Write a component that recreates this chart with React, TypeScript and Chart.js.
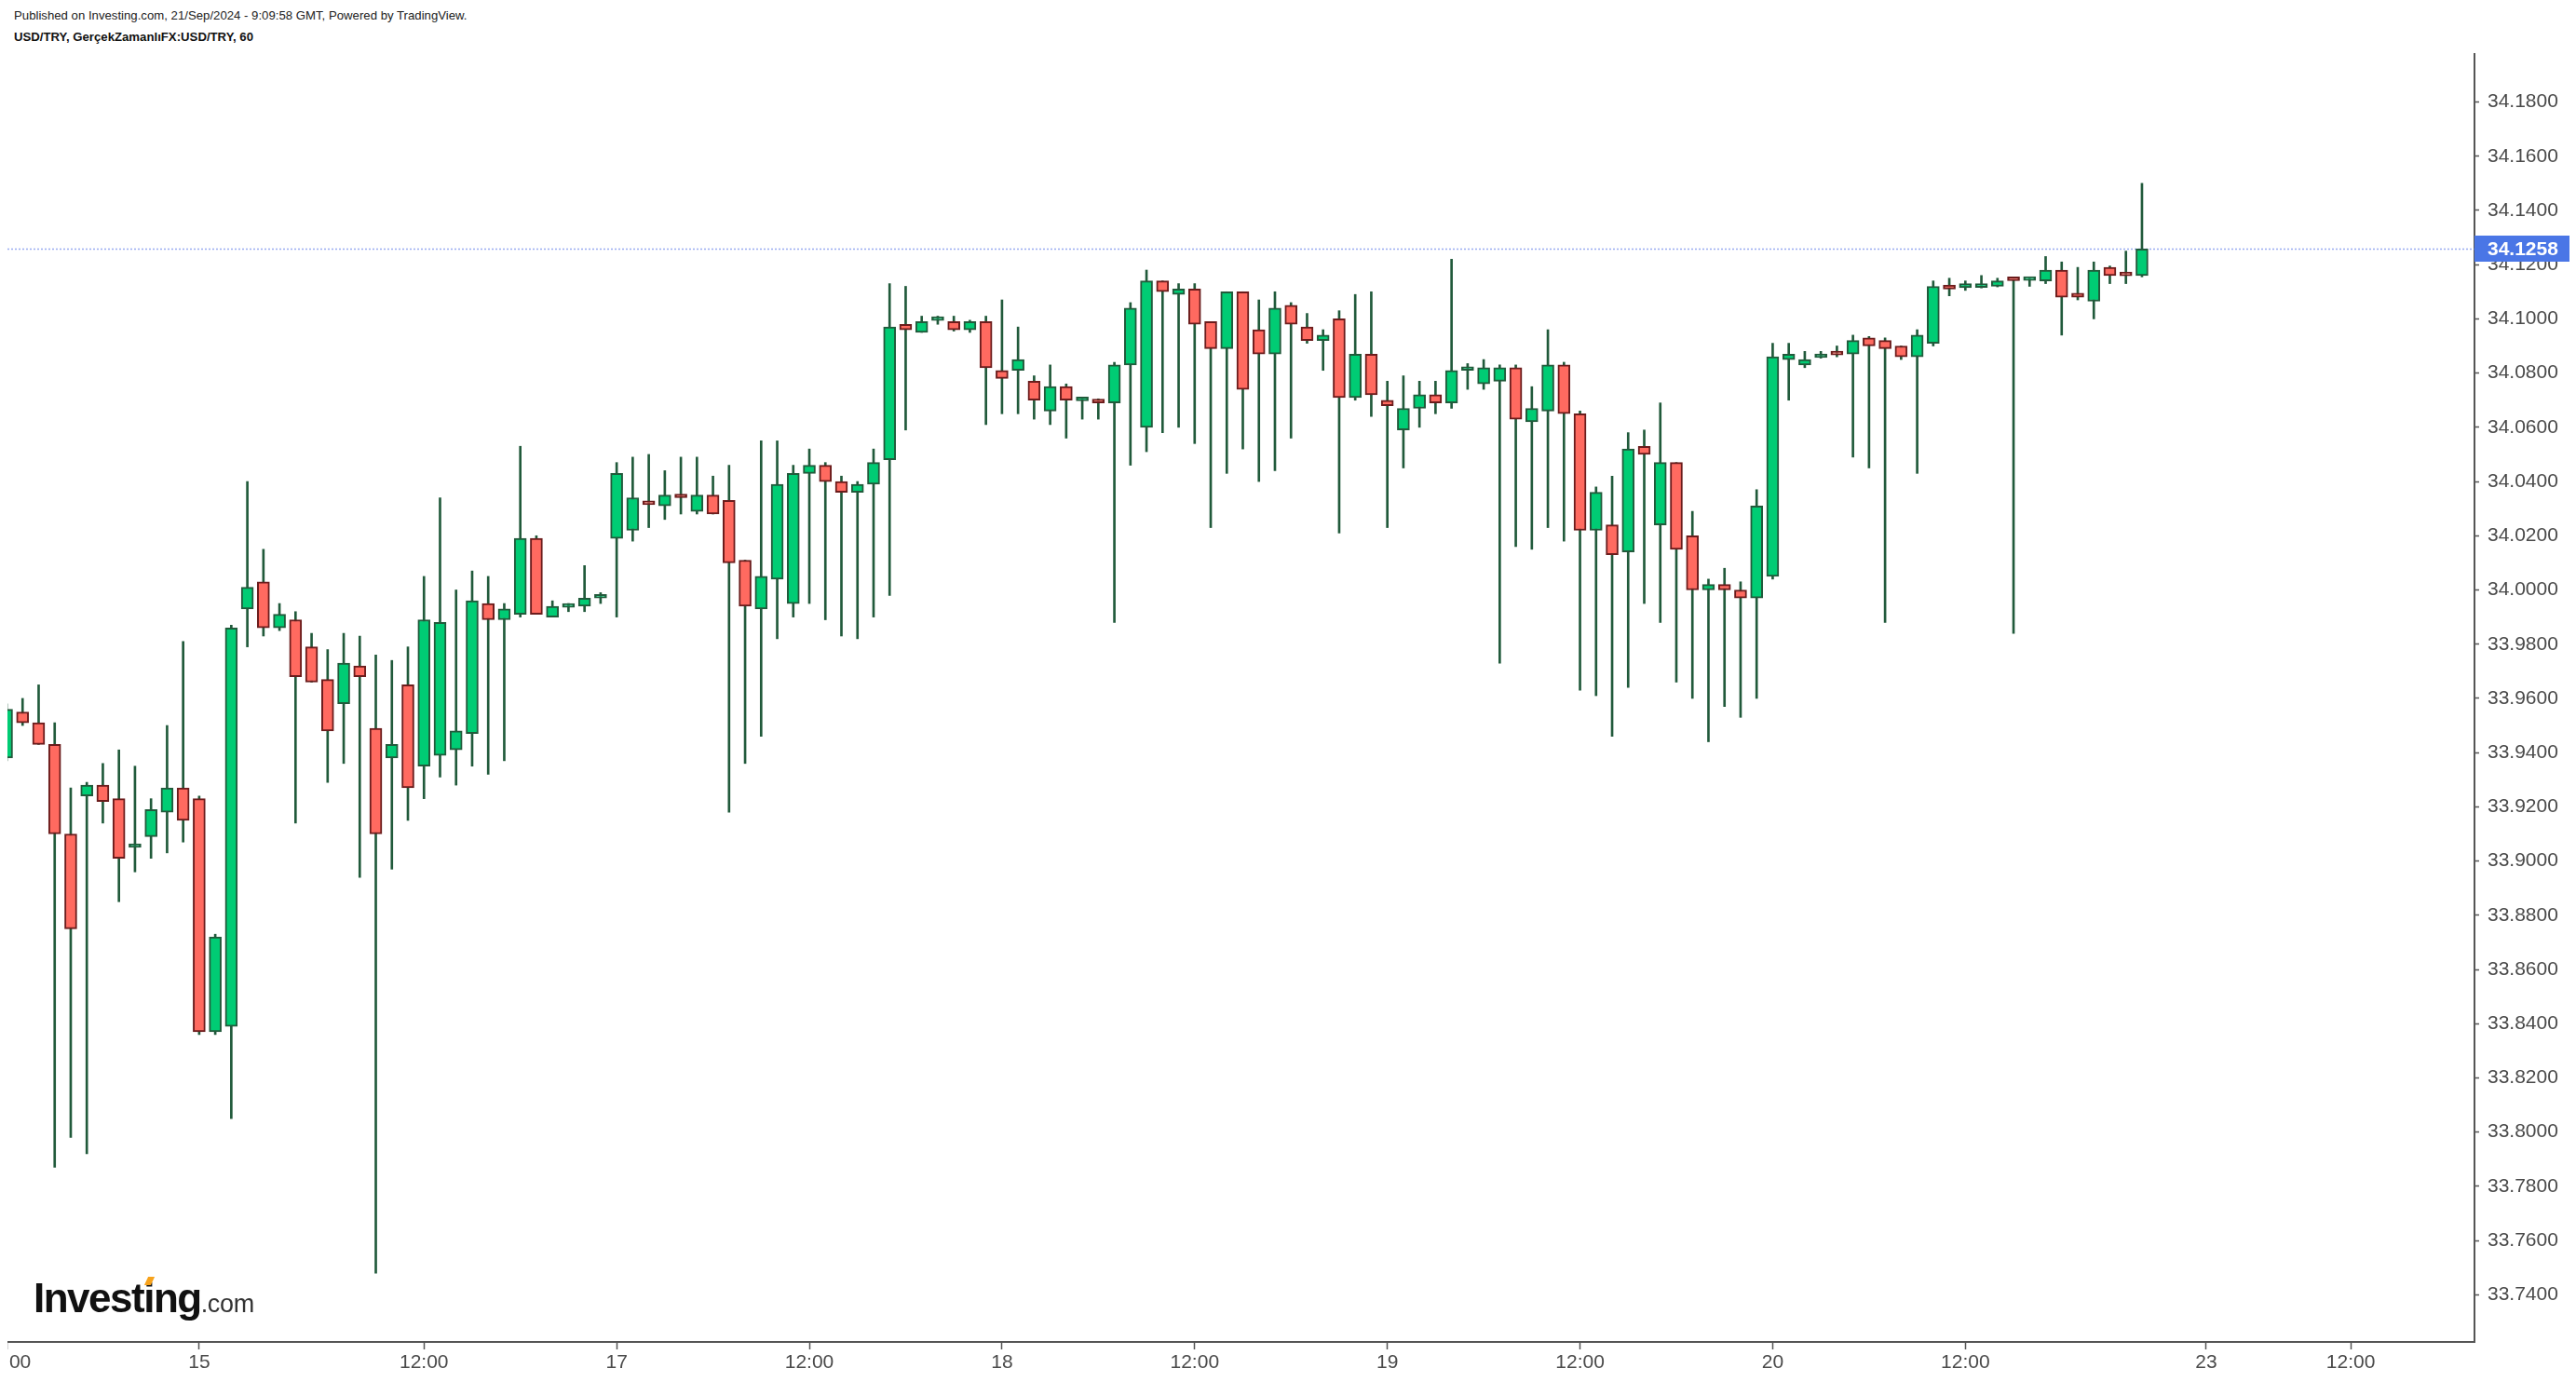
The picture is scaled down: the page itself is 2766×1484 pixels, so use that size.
import React, { useEffect, useRef } from 'react';
import { Chart, registerables } from 'chart.js';

Chart.register(...registerables);

// ---- Data (USD/TRY, 60 min candles) ----
const opens = [
  33.938, 33.955, 33.951, 33.943, 33.910, 33.924, 33.928, 33.923, 33.905, 33.909,
  33.918, 33.927, 33.923, 33.837, 33.839, 33.993, 34.003, 33.986, 33.989, 33.979,
  33.967, 33.958, 33.972, 33.949, 33.938, 33.965, 33.935, 33.939, 33.941, 33.947,
  33.995, 33.989, 33.991, 34.019, 33.990, 33.9936, 33.994, 33.997, 34.019, 34.022,
  34.032, 34.031, 34.035, 34.029, 34.035, 34.033, 34.011, 33.993, 34.004, 33.995,
  34.043, 34.046, 34.040, 34.036, 34.039, 34.048, 34.098, 34.095, 34.0994, 34.099,
  34.096, 34.099, 34.081, 34.081, 34.077, 34.066, 34.075, 34.0698, 34.070, 34.069,
  34.083, 34.060, 34.114, 34.109, 34.111, 34.099, 34.089, 34.110, 34.096, 34.087,
  34.105, 34.097, 34.092, 34.100, 34.071, 34.087, 34.070, 34.059, 34.067, 34.072,
  34.069, 34.0810, 34.076, 34.077, 34.082, 34.062, 34.066, 34.083, 34.065, 34.022,
  34.024, 34.014, 34.053, 34.024, 34.047, 34.020, 34.000, 34.002, 34.000, 33.997,
  34.005, 34.085, 34.083, 34.0857, 34.0869, 34.087, 34.093, 34.092, 34.090, 34.086,
  34.091, 34.1125, 34.1115, 34.1116, 34.112, 34.1143, 34.1142, 34.114, 34.118, 34.1095,
  34.1065, 34.119, 34.1161, 34.116,
];
const highs = [
  33.958, 33.960, 33.965, 33.951, 33.927, 33.929, 33.936, 33.941, 33.935, 33.923,
  33.950, 33.981, 33.924, 33.873, 33.987, 34.040, 34.015, 33.995, 33.992, 33.984,
  33.978, 33.984, 33.983, 33.976, 33.974, 33.979, 34.005, 34.034, 34.000, 34.007,
  34.005, 33.995, 34.053, 34.020, 33.996, 33.995, 34.009, 33.999, 34.047, 34.049,
  34.050, 34.044, 34.049, 34.049, 34.042, 34.046, 34.011, 34.055, 34.055, 34.046,
  34.052, 34.047, 34.042, 34.040, 34.052, 34.113, 34.112, 34.101, 34.101, 34.101,
  34.0995, 34.101, 34.107, 34.097, 34.079, 34.083, 34.076, 34.071, 34.0705, 34.084,
  34.106, 34.118, 34.114, 34.113, 34.113, 34.099, 34.110, 34.110, 34.107, 34.110,
  34.106, 34.102, 34.096, 34.103, 34.109, 34.110, 34.077, 34.079, 34.077, 34.077,
  34.122, 34.0835, 34.085, 34.083, 34.083, 34.075, 34.096, 34.084, 34.066, 34.038,
  34.042, 34.058, 34.059, 34.069, 34.047, 34.029, 34.004, 34.008, 34.003, 34.037,
  34.091, 34.091, 34.088, 34.088, 34.090, 34.094, 34.0935, 34.093, 34.090, 34.096,
  34.114, 34.115, 34.114, 34.116, 34.115, 34.1145, 34.115, 34.123, 34.121, 34.119,
  34.121, 34.1195, 34.125, 34.150,
];
const lows = [
  33.937, 33.950, 33.943, 33.787, 33.798, 33.792, 33.914, 33.885, 33.896, 33.901,
  33.903, 33.907, 33.836, 33.836, 33.805, 33.979, 33.983, 33.985, 33.914, 33.966,
  33.929, 33.936, 33.894, 33.748, 33.897, 33.915, 33.923, 33.931, 33.928, 33.935,
  33.932, 33.937, 33.990, 33.991, 33.990, 33.992, 33.992, 33.995, 33.990, 34.018,
  34.023, 34.026, 34.028, 34.028, 34.028, 33.918, 33.936, 33.946, 33.982, 33.990,
  33.995, 33.989, 33.983, 33.982, 33.990, 33.998, 34.059, 34.095, 34.098, 34.0955,
  34.095, 34.061, 34.065, 34.065, 34.063, 34.061, 34.056, 34.063, 34.063, 33.988,
  34.046, 34.051, 34.058, 34.060, 34.054, 34.023, 34.043, 34.052, 34.040, 34.044,
  34.056, 34.091, 34.081, 34.021, 34.070, 34.064, 34.023, 34.045, 34.060, 34.065,
  34.067, 34.074, 34.074, 33.973, 34.016, 34.015, 34.023, 34.018, 33.963, 33.961,
  33.946, 33.964, 33.995, 33.988, 33.966, 33.960, 33.944, 33.957, 33.953, 33.960,
  34.004, 34.070, 34.082, 34.0855, 34.086, 34.049, 34.045, 33.988, 34.085, 34.043,
  34.090, 34.1085, 34.1105, 34.1114, 34.1118, 33.984, 34.112, 34.113, 34.094, 34.107,
  34.100, 34.113, 34.113, 34.1155,
];
const closes = [
  33.956, 33.951, 33.943, 33.910, 33.875, 33.928, 33.922, 33.901, 33.906, 33.919,
  33.927, 33.915, 33.837, 33.872, 33.986, 34.001, 33.986, 33.991, 33.968, 33.966,
  33.948, 33.973, 33.968, 33.910, 33.943, 33.927, 33.989, 33.988, 33.948, 33.996,
  33.989, 33.993, 34.019, 33.991, 33.994, 33.994, 33.997, 33.998, 34.043, 34.034,
  34.0315, 34.035, 34.034, 34.035, 34.028, 34.010, 33.994, 34.005, 34.039, 34.043,
  34.046, 34.040, 34.036, 34.039, 34.047, 34.097, 34.096, 34.099, 34.0997, 34.096,
  34.099, 34.082, 34.078, 34.085, 34.070, 34.075, 34.070, 34.0702, 34.069, 34.083,
  34.104, 34.114, 34.110, 34.111, 34.098, 34.089, 34.110, 34.074, 34.087, 34.104,
  34.098, 34.092, 34.094, 34.071, 34.087, 34.072, 34.068, 34.067, 34.072, 34.069,
  34.081, 34.0812, 34.082, 34.082, 34.063, 34.067, 34.083, 34.065, 34.022, 34.036,
  34.013, 34.052, 34.050, 34.047, 34.015, 34.000, 34.002, 34.000, 33.997, 34.031,
  34.086, 34.087, 34.085, 34.0859, 34.0867, 34.092, 34.090, 34.089, 34.086, 34.094,
  34.112, 34.111, 34.113, 34.1118, 34.114, 34.1141, 34.1144, 34.118, 34.108, 34.108,
  34.118, 34.116, 34.1159, 34.1258,
];

const xTickPositions = [0, 12, 26, 38, 50, 62, 74, 86, 98, 110, 122, 137, 146];
const xTickLabels = ['12:00', '15', '12:00', '17', '12:00', '18', '12:00', '19', '12:00', '20', '12:00', '23', '12:00'];
const yTickValues = [
  33.74, 33.76, 33.78, 33.80, 33.82, 33.84, 33.86, 33.88, 33.90, 33.92, 33.94, 33.96,
  33.98, 34.00, 34.02, 34.04, 34.06, 34.08, 34.10, 34.12, 34.14, 34.16, 34.18,
];
const lastPrice = 34.1258;
const headerLine1 = 'Published on Investing.com, 21/Sep/2024 - 9:09:58 GMT, Powered by TradingView.';
const headerLine2 = 'USD/TRY, GerçekZamanlıFX:USD/TRY, 60';

// ---- Styling ----
const FONT = "'Liberation Sans', Arial, sans-serif";
const UP_FILL = '#00cc74';
const UP_BORDER = '#215a3b';
const DOWN_FILL = '#ff6a60';
const DOWN_BORDER = '#6b1c1c';
const WICK = '#215a3b';
const AXIS = '#555555';
const LABEL = '#4a4a4a';
const PRICE_BOX = '#4a76e6';

const X_MIN = 0.058;
const X_MAX = 153.71;
const Y_MIN = 33.7226;
const Y_MAX = 34.1977;

const lastPricePlugin = {
  id: 'lastPriceMarker',
  beforeDatasetsDraw(chart: any) {
    const { ctx, chartArea, scales } = chart;
    const y = Math.round(scales.y.getPixelForValue(lastPrice)) + 0.5;
    ctx.save();
    ctx.strokeStyle = 'rgba(85,115,230,0.6)';
    ctx.lineWidth = 1.5;
    ctx.setLineDash([2, 2]);
    ctx.beginPath();
    ctx.moveTo(chartArea.left, y);
    ctx.lineTo(chartArea.right, y);
    ctx.stroke();
    ctx.restore();
  },
  afterDraw(chart: any) {
    const { ctx, chartArea, scales } = chart;
    const y = scales.y.getPixelForValue(lastPrice);
    ctx.save();
    ctx.fillStyle = PRICE_BOX;
    ctx.fillRect(chartArea.right, Math.round(y - 14), 102, 28);
    ctx.fillStyle = '#ffffff';
    ctx.font = `bold 21px ${FONT}`;
    ctx.textAlign = 'left';
    ctx.textBaseline = 'middle';
    ctx.fillText(lastPrice.toFixed(4), chartArea.right + 14, y + 1);
    ctx.restore();
  },
};

export default function App() {
  const canvasRef = useRef<HTMLCanvasElement | null>(null);

  useEffect(() => {
    const canvas = canvasRef.current;
    if (!canvas) return;
    Chart.defaults.font.family = FONT;

    const isUp = opens.map((o, i) => closes[i] >= o);
    const bodyData = opens.map((o, i) => ({ x: i, y: [Math.min(o, closes[i]), Math.max(o, closes[i])] }));
    const wickData = lows.map((l, i) => ({ x: i, y: [l, highs[i]] }));

    const chart = new Chart(canvas, {
      type: 'bar',
      data: {
        datasets: [
          {
            label: 'body',
            data: bodyData as any,
            backgroundColor: isUp.map((u) => (u ? UP_FILL : DOWN_FILL)),
            borderColor: isUp.map((u) => (u ? UP_BORDER : DOWN_BORDER)),
            borderWidth: 2,
            borderSkipped: false,
            barThickness: 13,
            minBarLength: 4,
            grouped: false,
            order: 0,
            clip: 0,
          } as any,
          {
            label: 'wick',
            data: wickData as any,
            backgroundColor: WICK,
            borderWidth: 0,
            barThickness: 2,
            minBarLength: 1,
            grouped: false,
            order: 1,
            clip: 0,
          } as any,
        ],
      },
      options: {
        responsive: false,
        maintainAspectRatio: false,
        animation: false,
        events: [],
        layout: { padding: { left: 0, right: 0, top: 58, bottom: 0 } },
        plugins: {
          legend: { display: false },
          tooltip: { enabled: false },
          title: { display: false },
        },
        scales: {
          x: {
            type: 'linear',
            min: X_MIN,
            max: X_MAX,
            offset: false,
            grid: {
              display: true,
              drawOnChartArea: false,
              drawTicks: true,
              tickLength: 8,
              tickWidth: 1.5,
              tickColor: AXIS,
              offset: false,
            },
            border: { display: true, color: AXIS, width: 2 },
            ticks: {
              autoSkip: false,
              maxRotation: 0,
              minRotation: 0,
              padding: 2,
              color: LABEL,
              font: { size: 21, family: FONT },
              callback: (_v: any, idx: number) => xTickLabels[idx] ?? '',
            },
            afterBuildTicks: (scale: any) => {
              scale.ticks = xTickPositions.map((v) => ({ value: v }));
            },
            afterFit: (scale: any) => {
              scale.height = 43;
              scale.paddingLeft = 0;
              scale.paddingRight = 0;
            },
          } as any,
          y: {
            type: 'linear',
            position: 'right',
            min: Y_MIN,
            max: Y_MAX,
            beginAtZero: false,
            grid: {
              display: true,
              drawOnChartArea: false,
              drawTicks: true,
              tickLength: 5,
              tickWidth: 1.5,
              tickColor: AXIS,
            },
            border: { display: true, color: AXIS, width: 2 },
            ticks: {
              padding: 9,
              color: LABEL,
              font: { size: 21, family: FONT },
              callback: (v: any) => Number(v).toFixed(4),
            },
            afterBuildTicks: (scale: any) => {
              scale.ticks = yTickValues.map((v) => ({ value: v }));
            },
            afterFit: (scale: any) => {
              scale.width = 109;
              scale.paddingTop = 0;
              scale.paddingBottom = 0;
            },
          } as any,
        },
      },
      plugins: [lastPricePlugin],
    });

    return () => chart.destroy();
  }, []);

  return (
    <div
      style={{
        position: 'fixed',
        left: 0,
        top: 0,
        width: 2766,
        height: 1484,
        background: '#ffffff',
        overflow: 'hidden',
        fontFamily: FONT,
      }}
    >
      <div style={{ position: 'absolute', left: 15, top: 8, fontSize: 13.2, lineHeight: '17px', color: '#222', whiteSpace: 'nowrap' }}>
        {headerLine1}
      </div>
      <div style={{ position: 'absolute', left: 15, top: 31, fontSize: 13.2, lineHeight: '17px', color: '#111', fontWeight: 'bold', whiteSpace: 'nowrap' }}>
        {headerLine2}
      </div>
      <canvas
        ref={canvasRef}
        width={2758}
        height={1484}
        style={{ position: 'absolute', left: 8, top: 0, width: 2758, height: 1484 }}
      />
      <div style={{ position: 'absolute', left: 36, top: 1372, whiteSpace: 'nowrap', lineHeight: '44px' }}>
        <span style={{ fontSize: 44, fontWeight: 'bold', letterSpacing: '-1.5px', color: '#111' }}>Investing</span>
        <span style={{ fontSize: 27, color: '#333', letterSpacing: '-0.3px' }}>.com</span>
      </div>
      <div
        style={{
          position: 'absolute',
          left: 157,
          top: 1371,
          width: 7,
          height: 9,
          background: '#f7a21b',
          transform: 'skewX(-25deg)',
        }}
      />
    </div>
  );
}
